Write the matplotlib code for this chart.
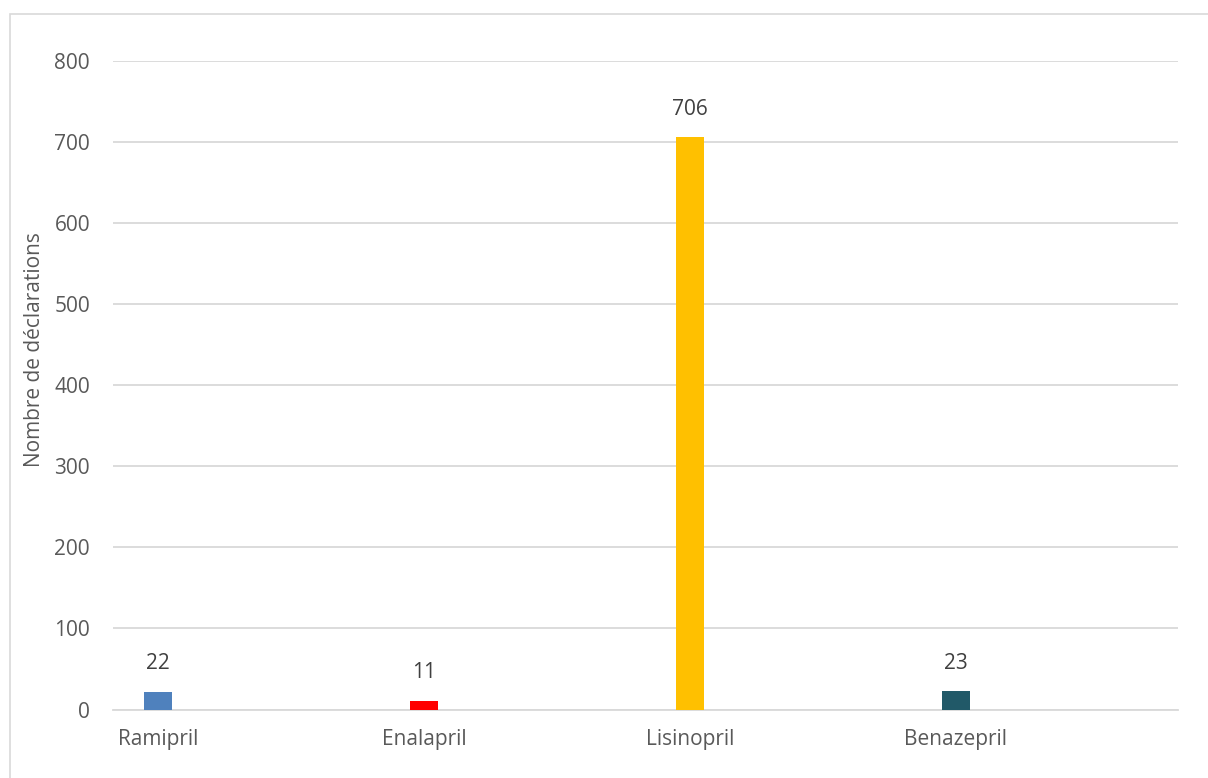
import matplotlib
matplotlib.use("Agg")
import matplotlib.pyplot as plt
from matplotlib.patches import Rectangle

categories = ["Ramipril", "Enalapril", "Lisinopril", "Benazepril"]
values = [22, 11, 706, 23]
colors = ["#4f81bd", "#ff0000", "#ffc000", "#215968"]
yticks = [0, 100, 200, 300, 400, 500, 600, 700, 800]
ylabel = "Nombre de déclarations"

plt.rcParams['font.family'] = ['Open Sans', 'DejaVu Sans']
W, H = 1208, 778
fig = plt.figure(figsize=(W / 100, H / 100), dpi=100)
fig.patch.set_facecolor("white")

# outer chart border (runs off the right and bottom edges)
fig.add_artist(Rectangle((10 / W, -0.1), 1.2, 1.1 - 14 / H, transform=fig.transFigure,
                         fill=False, edgecolor="#d9d9d9", linewidth=1.2))

left, right = 113, 1178
bottom, top = 709.5, 61
ax = fig.add_axes([left / W, 1 - bottom / H, (right - left) / W, (bottom - top) / H])

x = list(range(len(categories)))
ax.bar(x, values, width=0.105, color=colors, zorder=3)
ax.set_xlim(-0.169, 3.835)
ax.set_ylim(0, 800)
ax.set_yticks(yticks)
ax.set_yticklabels([str(t) for t in yticks])
ax.yaxis.grid(True, color="#d9d9d9", linewidth=1.3, zorder=0)
ax.set_axisbelow(True)
for s in ["top", "right", "left"]:
    ax.spines[s].set_visible(False)
ax.spines["bottom"].set_color("#d9d9d9")
ax.spines["bottom"].set_linewidth(1.3)
ax.tick_params(axis="both", length=0, labelsize=15, labelcolor="#595959")
ax.tick_params(axis="y", pad=16.5)
ax.tick_params(axis="x", pad=14)
ax.set_xticks(x)
ax.set_xticklabels(categories)

fig.text(35 / W, 1 - 350 / H, ylabel, rotation=90, ha="center", va="center",
         fontsize=15, color="#595959")

for xi, v in zip(x, values):
    ax.annotate(str(v), (xi, v), xytext=(0, 20), textcoords="offset points",
                ha="center", va="center", fontsize=15, color="#404040")

fig.savefig("out.png", dpi=100, facecolor="white")
